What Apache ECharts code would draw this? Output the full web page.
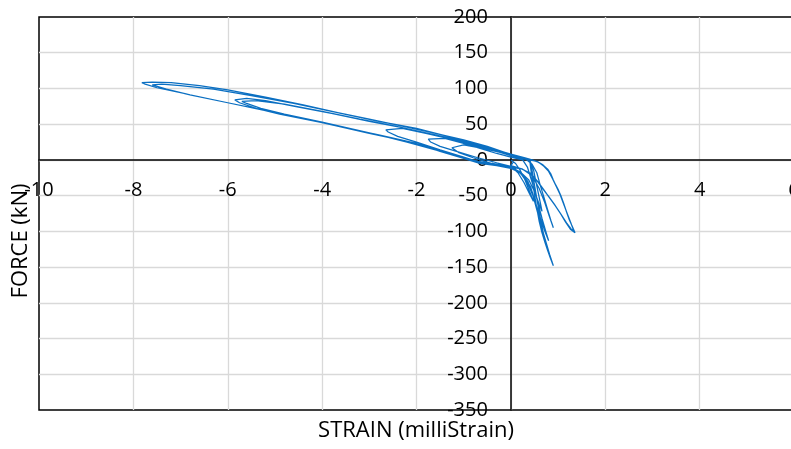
<!DOCTYPE html>
<html>
<head>
<meta charset="utf-8">
<script src="https://cdn.jsdelivr.net/npm/echarts@6/dist/echarts.min.js"></script>
<style type="text/css">
html,body{margin:0;padding:0;background:#fff;}
#chart{width:791px;height:449px;}
</style>
</head>
<body>
<div id="chart"></div>
<script type="text/javascript">
// strain (milliStrain) / force (kN), in loading order
var strain = [
  0, 0.1, 0.2, 0.3, 0.4, 0.48, 0.4, 0.28, 0.15, 0, -0.3,
  -0.7, -1.1, -1.5, -1.7, -1.75, -1.4, -1, -0.6, -0.3, 0, 0.25,
  0.35, 0.42, 0.5, 0.58, 0.66, 0.74, 0.8, 0.72, 0.6, 0.48, 0.35, 0.2, 0.05, -0.3, -0.66,
  -1, -1.5, -2, -2.4, -2.6, -2.65, -2.3, -1.8, -1.2, -0.7, -0.3, 0, 0.2, 0.4,
  0.48, 0.53, 0.58, 0.63, 0.66, 0.6, 0.5, 0.38, 0.2, 0, -0.4,
  -0.8, -1.1, -1.25, -1.0, -0.6, -0.2, 0.15, 0.4,
  0.55, 0.68, 0.78, 0.85, 0.9, 0.95, 1.0, 1.06, 1.12, 1.18, 1.24, 1.3, 1.36,
  1.32, 1.26, 1.16, 1.05, 0.92, 0.8, 0.66, 0.54, 0.4, 0.2, 0, -0.4, -0.7,
  -1, -1.5, -2, -3, -4, -4.9, -5.4, -5.75, -5.85, -5.6, -5.2, -4.5, -3.8, -3, -2.3, -1.6, -1, -0.5, -0.1, 0.2, 0.4,
  0.42, 0.46, 0.5, 0.55, 0.6, 0.66, 0.72, 0.78, 0.84, 0.9,
  0.86, 0.8, 0.72, 0.64, 0.55, 0.46, 0.36, 0.2, 0, -0.3, -0.66,
  -1, -1.5, -2, -2.8, -4, -4.9, -6, -7, -7.5, -7.75, -7.82,
  -7.6, -7.2, -6.6, -6, -5.2, -4.4, -3.6, -2.8, -2, -1.4, -0.8, -0.4, 0, 0.3, 0.45,
  0.58, 0.7, 0.8, 0.88, 0.96, 1.04, 1.12, 1.2, 1.27, 1.33,
  1.28, 1.18, 1.06, 0.94, 0.82, 0.7, 0.58, 0.44, 0.25, 0, -0.4, -0.7,
  -1.1, -1.6, -2.2, -3, -4, -5, -6, -6.8, -7.3, -7.55, -7.6,
  -7.4, -7, -6.3, -5.5, -4.6, -3.8, -3, -2.2, -1.6, -1, -0.5, -0.1, 0.2, 0.4,
  0.45, 0.5, 0.56, 0.62, 0.68, 0.75, 0.82, 0.88,
  0.82, 0.74, 0.66, 0.58, 0.5, 0.42, 0.3, 0.15, 0, -0.4, -0.7,
  -1.1, -1.6, -2.2, -3, -4, -4.8, -5.3, -5.6, -5.7,
  -5.4, -4.8, -4, -3.2, -2.5, -1.8, -1.2, -0.6, -0.2, 0.1, 0.3,
  0.45, 0.55, 0.62, 0.7, 0.78, 0.85, 0.9,
  0.82, 0.72, 0.6, 0.45, 0.25, 0, 0.05
];
var force = [
  0, -5, -15, -28, -45, -58, -48, -32, -18, -9, -4,
  3, 11, 19, 25, 29, 30, 23, 15, 9, 4, 0,
  -10, -25, -42, -62, -82, -100, -113, -100, -76, -52, -32, -18, -11, -6, -3,
  4, 14, 25, 33, 39, 42, 44, 37, 28, 19, 12, 6, 2, 0,
  -14, -30, -46, -62, -72, -62, -44, -28, -17, -10, -5,
  3, 10, 17, 21, 16, 10, 4, 0,
  -2, -7, -13, -20, -28, -35, -41, -50, -61, -73, -84, -93, -102,
  -101, -97, -87, -75, -62, -51, -39, -28, -18, -12, -9, -5, -2,
  3, 13, 23, 37, 52, 64, 72, 80, 84, 86, 83, 74, 65, 54, 45, 35, 26, 17, 9, 4, 0,
  -12, -30, -48, -68, -86, -102, -115, -127, -138, -148,
  -140, -128, -110, -92, -70, -48, -30, -18, -12, -8, -5,
  2, 12, 23, 35, 52, 65, 80, 94, 101, 106, 108,
  109, 108, 104, 98, 88, 77, 65, 54, 44, 34, 24, 16, 8, 3, 0,
  -3, -9, -16, -26, -37, -48, -62, -76, -88, -99,
  -97, -88, -76, -64, -53, -42, -31, -20, -13, -10, -6, -3,
  5, 14, 25, 38, 52, 66, 80, 91, 99, 104, 105,
  106, 104, 99, 90, 79, 68, 57, 46, 37, 28, 19, 10, 4, 1,
  -15, -35, -58, -80, -100, -118, -133, -145,
  -132, -114, -96, -76, -55, -38, -25, -16, -11, -6, -2,
  5, 15, 26, 38, 53, 64, 72, 79, 82,
  83, 78, 68, 57, 48, 38, 29, 19, 11, 5, 2,
  -6, -18, -35, -52, -70, -85, -95,
  -80, -60, -40, -22, -13, -8, -3
];
var xTicks = {min: -10, max: 6, step: 2};
var yTicks = {min: -350, max: 200, step: 50};

var points = [];
for (var i = 0; i < strain.length; i++) {
  points.push([strain[i], force[i]]);
}

// plot box in pixels; axes cross at 0, so shift them there with offset
var box = {left: 39, right: 794, top: 17, bottom: 410};
var x0 = box.left + (0 - xTicks.min) / (xTicks.max - xTicks.min) * (box.right - box.left);
var y0 = box.top + (yTicks.max - 0) / (yTicks.max - yTicks.min) * (box.bottom - box.top);

var font = 'Open Sans';
var chart = echarts.init(document.getElementById('chart'));
var option = {
  animation: false,
  grid: {
    left: box.left, right: 791 - box.right, top: box.top, bottom: 449 - box.bottom,
    outerBoundsMode: 'none',
    containLabel: false,
    show: true, borderColor: '#000', borderWidth: 1.5,
    backgroundColor: 'transparent'
  },
  xAxis: {
    type: 'value',
    position: 'bottom',
    offset: -(box.bottom - y0),
    min: xTicks.min, max: xTicks.max, interval: xTicks.step,
    axisLine: {onZero: false, lineStyle: {color: '#000', width: 1.5}},
    axisTick: {show: false},
    axisLabel: {color: '#000', fontSize: 20, fontFamily: font, margin: 20, hideOverlap: false},
    splitLine: {showMinLine: false, showMaxLine: false, lineStyle: {color: '#d9d9d9', width: 1.3}}
  },
  yAxis: {
    type: 'value',
    position: 'left',
    offset: -(x0 - box.left),
    min: yTicks.min, max: yTicks.max, interval: yTicks.step,
    axisLine: {onZero: false, lineStyle: {color: '#000', width: 1.5}},
    axisTick: {show: false},
    axisLabel: {color: '#000', fontSize: 20, fontFamily: font, margin: 23, hideOverlap: false},
    splitLine: {showMinLine: false, showMaxLine: false, lineStyle: {color: '#d9d9d9', width: 1.3}}
  },
  series: [{
    type: 'line',
    data: points,
    showSymbol: false,
    symbol: 'none',
    lineStyle: {color: '#0a6fc2', width: 1.25},
    z: 1
  }],
  graphic: [
    {
      type: 'text', x: 416, y: 431,
      style: {text: 'STRAIN (milliStrain)', fontSize: 22, fontFamily: font, fill: '#000', align: 'center', verticalAlign: 'middle'}
    },
    {
      type: 'text', x: 21, y: 241, rotation: Math.PI / 2,
      style: {text: 'FORCE (kN)', fontSize: 22, fontFamily: font, fill: '#000', align: 'center', verticalAlign: 'middle'}
    }
  ]
};
chart.setOption(option);
window.onresize = chart.resize;
</script>
</body>
</html>
